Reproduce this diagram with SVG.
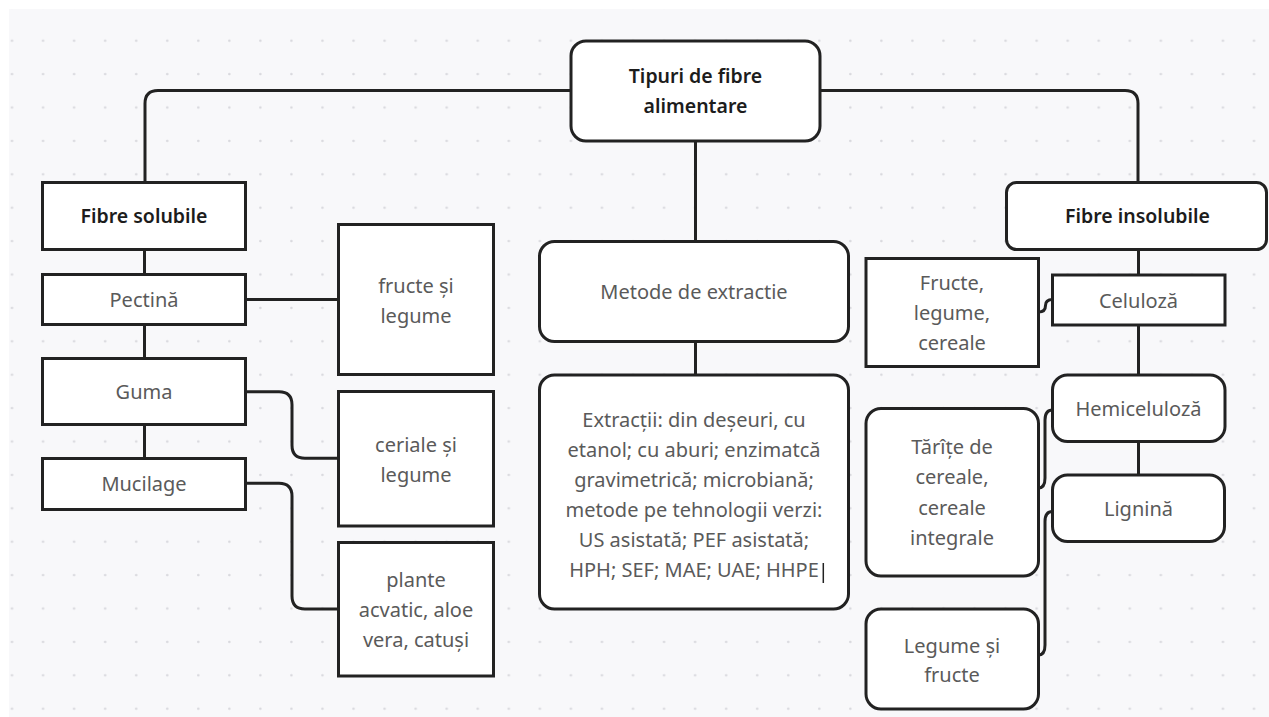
<svg xmlns="http://www.w3.org/2000/svg" width="1269" height="717" viewBox="0 0 1269 717">
<defs>
<pattern id="dots" x="0" y="7.3" width="31.05" height="33.4" patternUnits="userSpaceOnUse">
<circle cx="12" cy="0" r="1.3" fill="#d9d9de"/>
<circle cx="12" cy="33.4" r="1.3" fill="#d9d9de"/>
</pattern>
<style>
.box{fill:#ffffff;stroke:#222222;stroke-width:3}
.con{fill:none;stroke:#222222;stroke-width:3}
.t{font-family:"Noto Sans","Open Sans","Liberation Sans",sans-serif;font-size:20px;fill:#5a5a5a;text-anchor:middle}
.b{font-family:"Noto Sans","Open Sans","Liberation Sans",sans-serif;font-size:19.5px;font-weight:600;fill:#1c1c1c;text-anchor:middle}
</style>
</defs>
<rect x="0" y="0" width="1269" height="717" fill="#ffffff"/>
<rect x="9" y="9" width="1260" height="708" fill="#f8f8fa"/>
<rect x="9" y="9" width="1260" height="708" fill="url(#dots)"/>

<g id="connectors">
<path class="con" d="M571,90.5 H158 Q145,90.5 145,103.5 V182.5"/>
<path class="con" d="M820,90.5 H1125 Q1138,90.5 1138,103.5 V182.5"/>
<path class="con" d="M695.5,141 V241.5"/>
<path class="con" d="M695.5,341.5 V375"/>
<path class="con" d="M144.5,249.5 V274.5"/>
<path class="con" d="M144.5,324.5 V358.5"/>
<path class="con" d="M144.5,424.5 V458.5"/>
<path class="con" d="M245.5,299.5 H338.5"/>
<path class="con" d="M245.5,391.7 H279 Q292,391.7 292,404.7 V445.3 Q292,458.3 305,458.3 H338.5"/>
<path class="con" d="M245.5,483.3 H279 Q292,483.3 292,496.3 V596 Q292,609 305,609 H338.5"/>
<path class="con" d="M1138.5,249.5 V275"/>
<path class="con" d="M1138.5,325 V375"/>
<path class="con" d="M1138.5,441.5 V475"/>
<path class="con" d="M1052.5,299.5 Q1045.5,299.5 1045.5,305.5 Q1045.5,312 1038.5,312"/>
<path class="con" d="M1052.5,410 Q1045,410 1045,420 V478 Q1045,488 1038.5,488"/>
<path class="con" d="M1052.5,511.5 Q1045,511.5 1045,521.5 V645 Q1045,655 1038.5,655"/>
</g>

<g id="root">
<rect class="box" x="571" y="41" width="249" height="100" rx="15"/>
<text class="b" x="695.5" y="83">Tipuri de fibre</text>
<text class="b" x="695.5" y="113">alimentare</text>
</g>

<g id="fibre-solubile">
<rect class="box" x="42.5" y="182.5" width="203" height="67"/>
<text class="b" x="144" y="223">Fibre solubile</text>
</g>
<g id="pectina">
<rect class="box" x="42.5" y="274.5" width="203" height="50"/>
<text class="t" x="144" y="307">Pectină</text>
</g>
<g id="guma">
<rect class="box" x="42.5" y="358.5" width="203" height="66"/>
<text class="t" x="144" y="399">Guma</text>
</g>
<g id="mucilage">
<rect class="box" x="42.5" y="458.5" width="203" height="51"/>
<text class="t" x="144" y="491">Mucilage</text>
</g>
<g id="fructe-legume">
<rect class="box" x="338.5" y="224.5" width="155" height="150"/>
<text class="t" x="416" y="293">fructe și</text>
<text class="t" x="416" y="323">legume</text>
</g>
<g id="ceriale-legume">
<rect class="box" x="338.5" y="391.5" width="155" height="134.5"/>
<text class="t" x="416" y="451.5">ceriale și</text>
<text class="t" x="416" y="481.5">legume</text>
</g>
<g id="plante">
<rect class="box" x="338.5" y="542.5" width="155" height="133.5"/>
<text class="t" x="416" y="586.5">plante</text>
<text class="t" x="416" y="616.5">acvatic, aloe</text>
<text class="t" x="416" y="646.5">vera, catuși</text>
</g>

<g id="metode">
<rect class="box" x="539.5" y="241.5" width="309" height="100" rx="15"/>
<text class="t" x="694" y="299">Metode de extractie</text>
</g>
<g id="extractii">
<rect class="box" x="539.5" y="375" width="309" height="234" rx="15"/>
<text class="t" x="694" y="427">Extracții: din deșeuri, cu</text>
<text class="t" x="694" y="457">etanol; cu aburi; enzimatcă</text>
<text class="t" x="694" y="487">gravimetrică; microbiană;</text>
<text class="t" x="694" y="517">metode pe tehnologii verzi:</text>
<text class="t" x="694" y="547">US asistată; PEF asistată;</text>
<text class="t" x="694" y="577">HPH; SEF; MAE; UAE; HHPE</text>
<line x1="823.3" y1="563" x2="823.3" y2="583" stroke="#222222" stroke-width="1.5"/>
</g>

<g id="fibre-insolubile">
<rect class="box" x="1006.5" y="182.5" width="260" height="67" rx="10"/>
<text class="b" x="1137.5" y="223">Fibre insolubile</text>
</g>
<g id="celuloza">
<rect class="box" x="1052.5" y="275" width="172.5" height="50"/>
<text class="t" x="1138.5" y="308">Celuloză</text>
</g>
<g id="fructe-legume-cereale">
<rect class="box" x="866" y="258.5" width="172.5" height="108"/>
<text class="t" x="952" y="290">Fructe,</text>
<text class="t" x="952" y="320">legume,</text>
<text class="t" x="952" y="349.5">cereale</text>
</g>
<g id="hemiceluloza">
<rect class="box" x="1052.5" y="375" width="172.5" height="66.5" rx="15"/>
<text class="t" x="1138.5" y="415.5">Hemiceluloză</text>
</g>
<g id="lignina">
<rect class="box" x="1052.5" y="475" width="172" height="66.5" rx="15"/>
<text class="t" x="1138.5" y="516">Lignină</text>
</g>
<g id="tarite">
<rect class="box" x="866" y="408.5" width="172.5" height="167.5" rx="15"/>
<text class="t" x="952" y="453.5">Tărîțe de</text>
<text class="t" x="952" y="483.5">cereale,</text>
<text class="t" x="952" y="514.5">cereale</text>
<text class="t" x="952" y="544.5">integrale</text>
</g>
<g id="legume-fructe">
<rect class="box" x="866" y="609" width="172.5" height="100" rx="15"/>
<text class="t" x="952" y="652.5">Legume și</text>
<text class="t" x="952" y="682">fructe</text>
</g>
</svg>
